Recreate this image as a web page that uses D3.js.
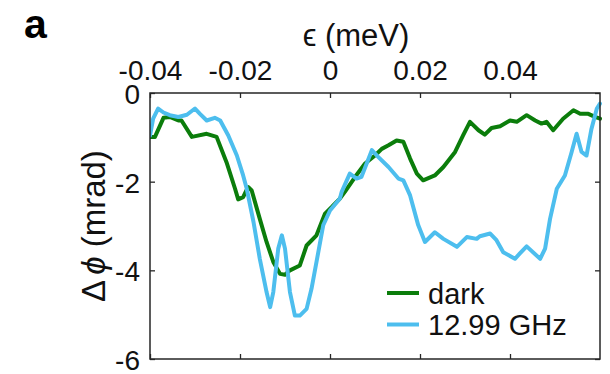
<!DOCTYPE html>
<html>
<head>
<meta charset="utf-8">
<script src="https://cdn.jsdelivr.net/npm/d3@7"></script>
<style>
  html, body { margin: 0; padding: 0; background: #fff; }
  svg { display: block; font-family: "Liberation Sans", Arial, Helvetica, sans-serif; }
</style>
</head>
<body>
<svg id="chart" width="610" height="374"></svg>
<script>
// Detuning ϵ (meV) and phase shift Δϕ (mrad), measured without drive ("dark")
const darkEps = [-0.0400, -0.0389, -0.0370, -0.0356, -0.0337, -0.0330, -0.0307, -0.0274, -0.0252,
  -0.0230, -0.0211, -0.0204, -0.0193, -0.0182, -0.0174, -0.0156, -0.0141, -0.0126, -0.0111,
  -0.0100, -0.0089, -0.0067, -0.0052, -0.0030, -0.0011, 0.0004, 0.0022, 0.0033, 0.0056,
  0.0078, 0.0100, 0.0115, 0.0130, 0.0148, 0.0163, 0.0178, 0.0193, 0.0207, 0.0233, 0.0252,
  0.0278, 0.0296, 0.0311, 0.0330, 0.0344, 0.0359, 0.0378, 0.0400, 0.0415, 0.0437, 0.0456,
  0.0470, 0.0481, 0.0496, 0.0518, 0.0541, 0.0556, 0.0574, 0.0589, 0.0600];
const darkPhi = [-0.99, -0.99, -0.56, -0.54, -0.62, -0.62, -0.99, -0.92, -0.99,
  -1.56, -2.16, -2.40, -2.35, -2.12, -2.20, -2.84, -3.36, -3.81, -4.08,
  -4.10, -4.00, -3.89, -3.44, -3.21, -2.72, -2.57, -2.38, -2.23, -1.89,
  -1.59, -1.41, -1.26, -1.18, -1.07, -1.10, -1.48, -1.82, -1.97, -1.86, -1.67,
  -1.33, -0.95, -0.65, -0.84, -0.94, -0.79, -0.75, -0.62, -0.65, -0.50, -0.62,
  -0.69, -0.65, -0.84, -0.58, -0.39, -0.47, -0.47, -0.54, -0.58];

// Same sweep under 12.99 GHz irradiation
const rfEps = [-0.0400, -0.0393, -0.0382, -0.0370, -0.0356, -0.0337, -0.0318, -0.0300, -0.0289,
  -0.0274, -0.0256, -0.0244, -0.0226, -0.0207, -0.0193, -0.0185, -0.0170, -0.0156, -0.0141,
  -0.0133, -0.0126, -0.0115, -0.0107, -0.0100, -0.0089, -0.0078, -0.0067, -0.0052, -0.0041,
  -0.0026, -0.0015, 0.0000, 0.0022, 0.0026, 0.0044, 0.0059, 0.0070, 0.0093, 0.0107, 0.0130,
  0.0152, 0.0163, 0.0178, 0.0196, 0.0211, 0.0233, 0.0252, 0.0282, 0.0304, 0.0326, 0.0333,
  0.0356, 0.0370, 0.0385, 0.0411, 0.0422, 0.0437, 0.0467, 0.0478, 0.0489, 0.0504, 0.0522,
  0.0537, 0.0548, 0.0559, 0.0570, 0.0581, 0.0593, 0.0600];
const rfPhi = [-0.96, -0.58, -0.35, -0.44, -0.50, -0.54, -0.49, -0.35, -0.47,
  -0.62, -0.56, -0.62, -0.96, -1.41, -1.86, -2.16, -2.91, -3.74, -4.49,
  -4.83, -4.49, -3.51, -3.21, -3.51, -4.49, -5.02, -5.02, -4.87, -4.41,
  -3.59, -2.98, -2.65, -2.38, -2.23, -1.82, -1.93, -1.89, -1.29, -1.44, -1.67,
  -1.93, -1.97, -2.31, -2.98, -3.36, -3.14, -3.29, -3.47, -3.25, -3.29, -3.23,
  -3.17, -3.32, -3.59, -3.74, -3.62, -3.46, -3.74, -3.51, -2.84, -2.16, -1.86,
  -1.33, -0.92, -1.33, -1.41, -0.81, -0.35, -0.24];

const xTicks = [-0.04, -0.02, 0, 0.02, 0.04];
const xTickLabels = ["-0.04", "-0.02", "0", "0.02", "0.04"];
const yTicks = [0, -2, -4, -6];
const yTickLabels = ["0", "-2", "-4", "-6"];

const seriesNames = ["dark", "12.99 GHz"];
const seriesColors = ["#0b7d0b", "#4dbeee"];

const svg = d3.select("#chart");
const plotLeft = 150, plotRight = 600, plotTop = 93, plotBottom = 359;
const axisColor = "#262626";
const tickFont = 28;

const x = d3.scaleLinear().domain([-0.04, 0.06]).range([plotLeft, plotRight]);
const y = d3.scaleLinear().domain([-6, 0]).range([plotBottom, plotTop]);

// Curves
const line = d3.line().x(d => x(d[0])).y(d => y(d[1]));
const series = [
  d3.zip(darkEps, darkPhi),
  d3.zip(rfEps, rfPhi)
];
svg.append("defs").append("clipPath").attr("id", "plotclip")
  .append("rect").attr("x", plotLeft).attr("y", plotTop - 3)
  .attr("width", plotRight - plotLeft + 2).attr("height", plotBottom - plotTop + 3);

series.forEach((pts, i) => {
  svg.append("path")
    .datum(pts)
    .attr("d", line)
    .attr("fill", "none")
    .attr("stroke", seriesColors[i])
    .attr("stroke-width", 4)
    .attr("stroke-linejoin", "round")
    .attr("stroke-linecap", "round")
    .attr("clip-path", "url(#plotclip)");
});

// Axes: ticks point inward, box around the plot
const tickLen = 5;
const topAxis = d3.axisTop(x).tickValues(xTicks)
  .tickFormat((d, i) => xTickLabels[i]).tickSizeInner(-tickLen).tickSizeOuter(0).tickPadding(13);
const bottomAxis = d3.axisBottom(x).tickValues(xTicks)
  .tickFormat("").tickSizeInner(-tickLen).tickSizeOuter(0);
const leftAxis = d3.axisLeft(y).tickValues(yTicks)
  .tickFormat((d, i) => yTickLabels[i]).tickSizeInner(-tickLen).tickSizeOuter(0).tickPadding(10);
const rightAxis = d3.axisRight(y).tickValues(yTicks)
  .tickFormat("").tickSizeInner(-tickLen).tickSizeOuter(0);

function styleAxis(g) {
  g.select(".domain").remove();
  g.selectAll(".tick line").attr("stroke", axisColor).attr("stroke-width", 1.3);
  g.selectAll(".tick text").attr("fill", "#111").attr("font-size", tickFont)
    .attr("font-family", "'Liberation Sans', Arial, sans-serif");
}
svg.append("g").attr("transform", `translate(0,${plotTop})`).call(topAxis).call(styleAxis);
svg.append("g").attr("transform", `translate(0,${plotBottom})`).call(bottomAxis).call(styleAxis);
svg.append("g").attr("transform", `translate(${plotLeft},0)`).call(leftAxis).call(styleAxis)
  .selectAll(".tick text").attr("dy", "0.37em");
svg.append("g").attr("transform", `translate(${plotRight},0)`).call(rightAxis).call(styleAxis);

svg.append("rect")
  .attr("x", plotLeft).attr("y", plotTop)
  .attr("width", plotRight - plotLeft).attr("height", plotBottom - plotTop)
  .attr("fill", "none").attr("stroke", axisColor).attr("stroke-width", 1.5);

// Axis titles
svg.append("text")
  .attr("x", 356).attr("y", 46)
  .attr("text-anchor", "middle")
  .attr("font-size", 31).attr("fill", "#111")
  .text("ϵ (meV)");

const yl = svg.append("text")
  .attr("transform", `translate(105,226) rotate(-90)`)
  .attr("text-anchor", "middle")
  .attr("font-size", 33).attr("fill", "#111");
yl.append("tspan").text("Δ");
yl.append("tspan").attr("dx", 5).attr("font-style", "italic").text("ϕ");
yl.append("tspan").text(" (mrad)");

// Panel letter
svg.append("text")
  .attr("x", 24).attr("y", 37.5)
  .attr("font-size", 41).attr("font-weight", "bold").attr("fill", "#000")
  .text("a");

// Legend
const legend = svg.append("g");
seriesNames.forEach((name, i) => {
  const ly = 293 + i * 31.5;
  legend.append("line")
    .attr("x1", 387).attr("x2", 419).attr("y1", ly).attr("y2", ly)
    .attr("stroke", seriesColors[i]).attr("stroke-width", 4);
  legend.append("text")
    .attr("x", 428).attr("y", ly + 10.5)
    .attr("font-size", 29).attr("fill", "#111")
    .text(name);
});
</script>
</body>
</html>
